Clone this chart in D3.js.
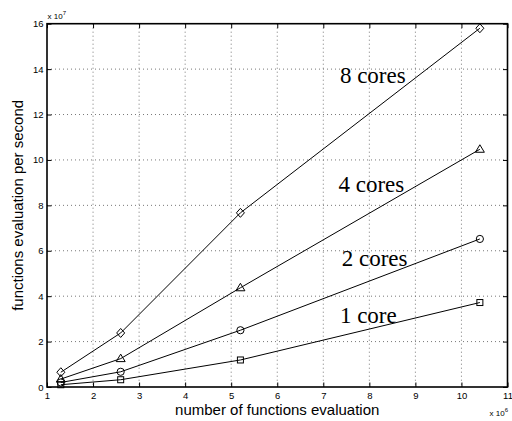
<!DOCTYPE html>
<html>
<head>
<meta charset="utf-8">
<script src="https://cdn.jsdelivr.net/npm/d3@7"></script>
<style>
  html, body { margin: 0; padding: 0; background: #fff; }
  svg { display: block; }
  text { font-family: "Liberation Sans", Arial, Helvetica, sans-serif; }
</style>
</head>
<body>
<svg id="chart" width="512" height="421"></svg>
<script>
// ---- data (x in units of 1e6, y in units of 1e7) ----
const xValues = [1.3, 2.6, 5.2, 10.4];
const core1 = [0.10, 0.32, 1.19, 3.72];
const core2 = [0.20, 0.67, 2.50, 6.52];
const core4 = [0.35, 1.25, 4.37, 10.47];
const core8 = [0.65, 2.38, 7.67, 15.80];
const seriesNames = ["1 core", "2 cores", "4 cores", "8 cores"];
const seriesMarkers = ["square", "circle", "triangle", "diamond"];
const labelAnchors = [[7.36, 2.83], [7.40, 5.33], [7.33, 8.57], [7.36, 13.39]]; // label positions in data units
const xTicks = [1, 2, 3, 4, 5, 6, 7, 8, 9, 10, 11];
const yTicks = [0, 2, 4, 6, 8, 10, 12, 14, 16];

const series = [core1, core2, core4, core8];

const svg = d3.select("#chart");
const pLeft = 47, pRight = 507.5, pTop = 23.7, pBottom = 387;

const x = d3.scaleLinear().domain([1, 11]).range([pLeft, pRight]);
const y = d3.scaleLinear().domain([0, 16]).range([pBottom, pTop]);

// grid (dotted)
const grid = svg.append("g");
grid.selectAll("line.gx").data(xTicks.slice(1, -1)).enter().append("line")
  .attr("x1", d => x(d)).attr("x2", d => x(d)).attr("y1", pTop).attr("y2", pBottom)
  .attr("stroke", "#555").attr("stroke-width", 0.8).attr("stroke-dasharray", "1,3");
grid.selectAll("line.gy").data(yTicks.slice(1, -1)).enter().append("line")
  .attr("x1", pLeft).attr("x2", pRight).attr("y1", d => y(d)).attr("y2", d => y(d))
  .attr("stroke", "#555").attr("stroke-width", 0.8).attr("stroke-dasharray", "1,3");

// axes with inward ticks on all sides
const tickLen = 4.5;
const axB = svg.append("g").attr("transform", `translate(0,${pBottom})`)
  .call(d3.axisBottom(x).tickValues(xTicks).tickSizeInner(-tickLen).tickSizeOuter(0).tickPadding(5).tickFormat(d3.format("d")));
const axT = svg.append("g").attr("transform", `translate(0,${pTop})`)
  .call(d3.axisTop(x).tickValues(xTicks).tickSizeInner(-tickLen).tickSizeOuter(0).tickFormat(""));
const axL = svg.append("g").attr("transform", `translate(${pLeft},0)`)
  .call(d3.axisLeft(y).tickValues(yTicks).tickSizeInner(-tickLen).tickSizeOuter(0).tickPadding(3.5).tickFormat(d3.format("d")));
const axR = svg.append("g").attr("transform", `translate(${pRight},0)`)
  .call(d3.axisRight(y).tickValues(yTicks).tickSizeInner(-tickLen).tickSizeOuter(0).tickFormat(""));
[axB, axT, axL, axR].forEach(a => {
  a.select(".domain").remove();
  a.selectAll(".tick line").attr("stroke", "#000").attr("stroke-width", 1);
  a.selectAll("text").attr("font-size", 9.5).attr("fill", "#000")
    .style("font-family", "'Liberation Sans', Arial, sans-serif");
});

// box
svg.append("rect").attr("x", pLeft).attr("y", pTop)
  .attr("width", pRight - pLeft).attr("height", pBottom - pTop)
  .attr("fill", "none").attr("stroke", "#000").attr("stroke-width", 1.6);

// lines
const line = d3.line().x((d, i) => x(xValues[i])).y(d => y(d));
const plot = svg.append("g");
series.forEach((s, k) => {
  plot.append("path").datum(s).attr("d", line)
    .attr("fill", "none").attr("stroke", "#000").attr("stroke-width", 1);
  const mk = seriesMarkers[k];
  const g = plot.append("g");
  s.forEach((v, i) => {
    const cx = x(xValues[i]), cy = y(v);
    if (mk === "square") {
      g.append("rect").attr("x", cx - 3).attr("y", cy - 3).attr("width", 6).attr("height", 6)
        .attr("fill", "none").attr("stroke", "#000").attr("stroke-width", 1);
    } else if (mk === "circle") {
      g.append("circle").attr("cx", cx).attr("cy", cy).attr("r", 3.6)
        .attr("fill", "none").attr("stroke", "#000").attr("stroke-width", 1);
    } else if (mk === "triangle") {
      g.append("path").attr("d", `M${cx},${cy - 4.5}L${cx + 4.5},${cy + 3}L${cx - 4.5},${cy + 3}Z`)
        .attr("fill", "none").attr("stroke", "#000").attr("stroke-width", 1);
    } else {
      g.append("path").attr("d", `M${cx},${cy - 4.5}L${cx + 4},${cy}L${cx},${cy + 4.5}L${cx - 4},${cy}Z`)
        .attr("fill", "none").attr("stroke", "#000").attr("stroke-width", 1);
    }
  });
});

// series labels
seriesNames.forEach((n, k) => {
  svg.append("text").attr("x", x(labelAnchors[k][0])).attr("y", y(labelAnchors[k][1]))
    .attr("font-size", 23).style("font-family", "'Liberation Serif', 'Times New Roman', serif")
    .attr("fill", "#000").text(n);
});

// axis titles
svg.append("text").attr("x", (pLeft + pRight) / 2).attr("y", 415)
  .attr("text-anchor", "middle").attr("font-size", 15).attr("fill", "#000")
  .text("number of functions evaluation");
svg.append("text").attr("transform", `translate(23,${(pTop + pBottom) / 2}) rotate(-90)`)
  .attr("text-anchor", "middle").attr("font-size", 15).attr("fill", "#000")
  .text("functions evaluation per second");

// exponent labels
const e7 = svg.append("text").attr("x", 47.5).attr("y", 19).attr("font-size", 8).attr("fill", "#000");
e7.append("tspan").text("x 10");
e7.append("tspan").attr("dy", -4.5).attr("font-size", 6).text("7");
const e6 = svg.append("text").attr("x", 508).attr("y", 416).attr("text-anchor", "end").attr("font-size", 8).attr("fill", "#000");
e6.append("tspan").text("x 10");
e6.append("tspan").attr("dy", -4.5).attr("font-size", 6).text("6");
</script>
</body>
</html>
